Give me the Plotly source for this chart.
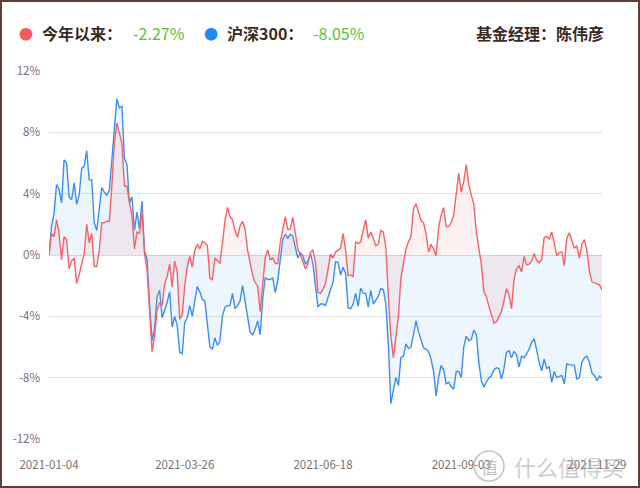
import plotly.graph_objects as go

# ---------------- data ----------------
tick_index = [0, 54, 109, 164, 218]
tick_labels = ["2021-01-04", "2021-03-26", "2021-06-18", "2021-09-03", "2021-11-29"]

y_ticks = [-12, -8, -4, 0, 4, 8, 12]
y_tick_labels = ["-12%", "-8%", "-4%", "0%", "4%", "8%", "12%"]

hs300 = [0, 1.85, 2.7, 4.6, 4.3, 3.4, 6.2, 6.0, 3.8, 3.6,
         4.7, 3.3, 3.9, 5.65, 5.8, 6.8, 4.9, 4.9, 2.1, 1.6,
         3.0, 4.4, 4.1, 3.9, 4.2, 6.2, 8.5, 10.2, 9.6, 9.7,
         6.3, 5.9, 3.4, 3.8, 1.6, 2.8, 1.7, 3.5, 0.3, -0.3,
         -3.2, -5.6, -4.8, -2.7, -2.3, -4.1, -3.6, -3.1, -2.4, -4.7,
         -4.0, -4.6, -6.35, -6.45, -4.4, -4.1, -3.3, -4.0, -3.0, -2.05,
         -2.4, -2.9, -3.0, -4.4, -6.0, -6.15, -5.4, -5.9, -5.6, -4.0,
         -3.4, -3.3, -3.3, -2.5, -3.5, -3.3, -3.0, -2.0, -2.9, -4.0,
         -5.05, -5.2, -4.85, -4.3, -5.2, -2.9, -1.5, -1.6, -1.6, -1.5,
         -2.45, -1.7, -0.3, 1.0, 1.35, 1.1, 1.35, 1.25, 0.5, -0.2,
         0.15, -0.05, -0.6, -0.4, 0.1, -0.6, -2.0, -3.4, -3.2, -3.2,
         -3.3, -2.7, -2.25, -1.8, -0.45, -0.5, -1.3, -0.8, -1.2, -3.45,
         -3.5, -3.2, -2.5, -3.35, -2.15, -2.5, -2.5, -3.4, -2.3, -3.2,
         -2.9, -2.7, -2.2, -2.25, -3.2, -5.8, -9.7, -8.8, -8.0, -8.5,
         -6.7, -6.6, -5.8, -6.1, -6.0, -5.2, -4.3, -5.0, -5.5, -6.05,
         -6.15, -6.3, -6.8, -7.6, -9.2, -8.0, -7.2, -7.5, -8.4, -8.3,
         -8.6, -8.75, -7.6, -7.6, -8.0, -6.0, -5.3, -5.6, -5.5, -4.9,
         -5.2, -7.0, -8.2, -8.6, -8.3, -8.0, -7.9, -7.5, -7.35, -7.4,
         -8.1, -7.4, -6.35, -6.25, -6.7, -6.3, -6.5, -7.3, -6.6, -6.7,
         -6.45, -6.15, -5.7, -5.45, -6.2, -7.0, -7.55, -6.8, -7.4, -7.3,
         -8.3, -7.6, -8.0, -7.9, -7.85, -8.4, -7.1, -7.15, -7.2, -7.2,
         -8.1, -8.0, -7.0, -6.7, -6.6, -7.0, -7.7, -7.85, -8.2, -7.9,
         -8.05]

fund = [0, 1.4, 1.2, 2.3, 1.4, -0.3, 1.2, 1.0, -0.9, -0.4,
        -0.2, -1.85, -1.3, -0.65, 0.1, 2.0, 0.8, 1.4, -0.75, -0.75,
        0.3, 2.1, 2.1, 2.2, 2.2, 4.5, 7.3, 8.6, 8.0, 7.3,
        4.5, 4.5, 3.4, 2.6, 0.4, 1.5, 1.4, 2.9, 0.1, -1.0,
        -3.6, -6.3, -5.3, -3.6, -3.1, -3.3, -1.9, -1.4, -0.6, -2.1,
        -0.4, -1.1, -4.2, -3.9, -2.0, -0.8, -0.1, -0.8, 0.3, 0.7,
        0.4, 0.9, 0.8, 0.6, -1.5, -1.6, -0.2, -0.4, -0.55, 0.8,
        2.2, 3.1, 2.5, 2.3, 1.6, 1.15, 1.9, 2.2, 1.7, 0.3,
        -0.6, -1.3, -1.8, -2.0, -3.7, -2.0, -0.2, 0.35, -0.3, -0.2,
        -0.55, -0.55, 0.8, 1.65, 2.5, 1.65, 1.7, 2.45, 1.5, 0.4,
        0.0, -0.4, -0.9, -0.6, 0.15, 0.35, -0.5, -2.45, -2.5, -2.25,
        -1.85, -0.95, 0.05, -0.2, 0.2, 0.3, 0.45, 1.4, 0.3, -1.35,
        -1.3, -1.4, 0.85, 0.75, 0.85, 1.6, 2.3, 1.1, 1.5, 1.1,
        0.6, 0.7, 1.6, 1.5, 0.5, -2.7, -5.3, -6.7, -5.3, -4.0,
        -1.5, -0.55, 0.4, 0.85, 1.2, 3.0, 3.35, 2.8, 2.25, 2.1,
        1.4, 0.2, 0.7, 0.4, -0.05, 1.75, 2.6, 3.1, 1.85, 1.85,
        2.1, 2.6, 4.0, 5.35, 4.1, 4.8, 5.9, 4.6, 3.9, 3.3,
        1.5, 0.3, -0.6, -2.4, -2.7, -3.35, -4.0, -4.45, -4.35, -4.0,
        -3.7, -3.0, -2.2, -2.6, -3.5, -1.6, -0.9, -0.7, -1.1, -0.1,
        -0.65, -0.6, -0.4, 0.1, -0.35, -0.5, -0.3, 1.15, 1.2, 1.05,
        1.5, 0.8, -0.05, 0.15, 0.2, -0.7, 1.1, 1.45, 0.9, 0.45,
        0.6, -0.2, 0.7, 1.0, 0.3, -1.05, -1.75, -1.8, -1.9, -1.95,
        -2.27]

fund_label = "今年以来："
fund_value = "-2.27%"
index_label = "沪深300："
index_value = "-8.05%"
manager_text = "基金经理：陈伟彦"

# ---------------- figure ----------------
W, H = 640, 488
ML, MR, MT, MB = 49, 38, 71, 49
PW, PH = W - ML - MR, H - MT - MB


def px(xp):
    return (xp - ML) / PW


def py(yp):
    return (H - MB - yp) / PH


x_idx = list(range(len(hs300)))
font_cjk = "Noto Sans CJK SC, Noto Sans, sans-serif"

fig = go.Figure()
fig.add_trace(go.Scatter(
    x=x_idx, y=hs300, mode="lines",
    line=dict(color="#3a8ff2", width=1.4),
    fill="tozeroy", fillcolor="rgba(58,143,242,0.09)",
    hoverinfo="skip", showlegend=False))
fig.add_trace(go.Scatter(
    x=list(range(len(fund))), y=fund, mode="lines",
    line=dict(color="#f46464", width=1.4),
    fill="tozeroy", fillcolor="rgba(244,100,100,0.09)",
    hoverinfo="skip", showlegend=False))

fig.update_layout(
    width=W, height=H,
    margin=dict(l=ML, r=MR, t=MT, b=MB),
    paper_bgcolor="white", plot_bgcolor="white",
    font=dict(family=font_cjk, color="#6b6b6b", size=12),
    xaxis=dict(range=[0, len(hs300) - 1], tickmode="array",
               tickvals=tick_index, ticktext=tick_labels,
               showgrid=False, zeroline=False, showline=False,
               ticks="", ticklabelstandoff=17,
               tickfont=dict(size=11.5, color="#7a7070")),
    yaxis=dict(range=[-12, 12], tickmode="array",
               tickvals=y_ticks, ticktext=y_tick_labels,
               showgrid=True, gridcolor="#e3e3e3", gridwidth=1,
               zeroline=True, zerolinecolor="#dcdcdc", zerolinewidth=1,
               showline=False, ticks="", ticklabelstandoff=8,
               tickfont=dict(size=11.5, color="#7a7070")),
)

ann_y = py(33)
anns = [
    dict(x=px(26), y=ann_y, text="●", font=dict(size=14, color="#f45b5b"), xanchor="center"),
    dict(x=px(40), y=ann_y, text="<b>%s</b>" % fund_label, font=dict(size=16, color="#3b2a24"), xanchor="left"),
    dict(x=px(131), y=ann_y, text=fund_value, font=dict(size=16, color="#5cbf3a"), xanchor="left"),
    dict(x=px(211), y=ann_y, text="●", font=dict(size=14, color="#1e88f5"), xanchor="center"),
    dict(x=px(225), y=ann_y, text="<b>%s</b>" % index_label, font=dict(size=16, color="#3b2a24"), xanchor="left"),
    dict(x=px(311), y=ann_y, text=index_value, font=dict(size=16, color="#5cbf3a"), xanchor="left"),
    dict(x=px(606), y=ann_y, text="<b>%s</b>" % manager_text, font=dict(size=16, color="#3b2a24"), xanchor="right"),
    # site watermark
    dict(x=px(489), y=py(466), text="值", font=dict(size=17, color="rgba(170,170,170,0.75)"), xanchor="center"),
    dict(x=px(512), y=py(466), text="什么值得买", font=dict(size=22, color="rgba(170,170,170,0.6)"), xanchor="left"),
]
for a in anns:
    a.update(xref="paper", yref="paper", yanchor="middle", showarrow=False)
fig.update_layout(annotations=anns)

fig.update_layout(shapes=[
    dict(type="rect", xref="paper", yref="paper",
         x0=px(0), x1=px(W), y0=py(H), y1=py(0),
         line=dict(color="#5b4037", width=4), fillcolor="rgba(0,0,0,0)", layer="above"),
    dict(type="circle", xref="paper", yref="paper",
         x0=px(474), x1=px(504), y0=py(481), y1=py(451),
         line=dict(color="rgba(170,170,170,0.7)", width=1.5)),
])

fig.write_html("out.html",
               config={"displayModeBar": False},
               post_script="document.body.style.margin='0px';document.body.style.overflow='hidden';")
